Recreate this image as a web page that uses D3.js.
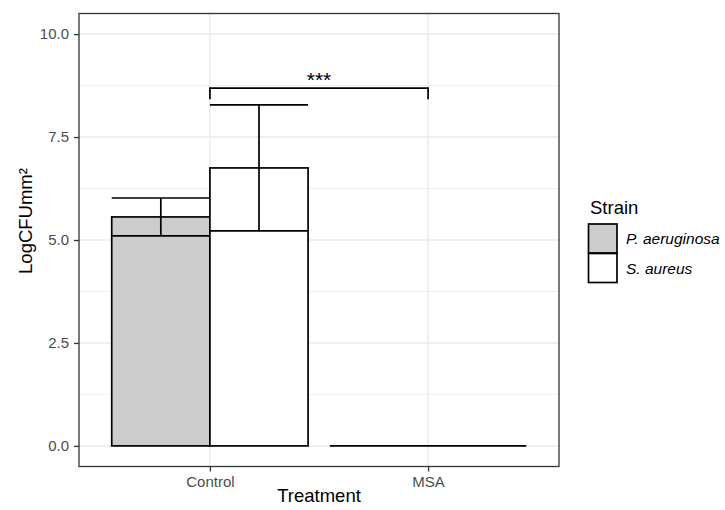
<!DOCTYPE html>
<html>
<head>
<meta charset="utf-8">
<script src="https://cdn.jsdelivr.net/npm/d3@7"></script>
<style>
  body { margin: 0; background: #fff; }
  svg text { font-family: "Liberation Sans", Arial, Helvetica, sans-serif; }
</style>
</head>
<body>
<div id="chart"></div>
<script>
// data
var treatments = ["Control", "MSA"];
var strains = ["P. aeruginosa", "S. aureus"];
var strainFill = ["#cccccc", "#ffffff"];
var meanPA = [5.56, 0];
var meanSA = [6.75, 0];
var sdPA = [0.46, 0];
var sdSA = [1.53, 0];
var yTicks = [0, 2.5, 5, 7.5, 10];
var yMinor = [1.25, 3.75, 6.25, 8.75];
var sigFrom = "Control", sigTo = "MSA", sigY = 8.69, sigTip = 8.42, sigLabel = "***";

var rows = [];
treatments.forEach(function (t, i) {
  rows.push({ treatment: t, strain: strains[0], mean: meanPA[i], sd: sdPA[i] });
  rows.push({ treatment: t, strain: strains[1], mean: meanSA[i], sd: sdSA[i] });
});

var W = 725, H = 510;
var pLeft = 79, pRight = 559, pTop = 13.5, pBottom = 466.5;

var svg = d3.select("#chart").append("svg").attr("width", W).attr("height", H);

// discrete axis: categories at 1..n, range expanded by 0.6 each side
var xc = d3.scaleLinear().domain([0.4, treatments.length + 0.6]).range([pLeft, pRight]);
function xPos(t) { return xc(treatments.indexOf(t) + 1); }
var dodge = d3.scaleBand().domain(strains).range([-0.45, 0.45]);

var y = d3.scaleLinear().domain([-0.5, 10.5]).range([pBottom, pTop]);
var color = d3.scaleOrdinal().domain(strains).range(strainFill);

// grid
var grid = svg.append("g");
grid.selectAll(".minor").data(yMinor).enter().append("line")
  .attr("x1", pLeft).attr("x2", pRight)
  .attr("y1", function (d) { return y(d); }).attr("y2", function (d) { return y(d); })
  .attr("stroke", "#ebebeb").attr("stroke-width", 0.8);
grid.selectAll(".major").data(yTicks).enter().append("line")
  .attr("x1", pLeft).attr("x2", pRight)
  .attr("y1", function (d) { return y(d); }).attr("y2", function (d) { return y(d); })
  .attr("stroke", "#ebebeb").attr("stroke-width", 1.5);
grid.selectAll(".vmajor").data(treatments).enter().append("line")
  .attr("x1", xPos).attr("x2", xPos)
  .attr("y1", pTop).attr("y2", pBottom)
  .attr("stroke", "#ebebeb").attr("stroke-width", 1.5);

// bars
function bx(d) { return xc(treatments.indexOf(d.treatment) + 1 + dodge(d.strain)); }
function bw() { return xc(1 + dodge.bandwidth()) - xc(1); }

svg.append("g").selectAll("rect").data(rows).enter().append("rect")
  .attr("x", bx)
  .attr("y", function (d) { return y(d.mean); })
  .attr("width", bw())
  .attr("height", function (d) { return y(0) - y(d.mean); })
  .attr("fill", function (d) { return color(d.strain); })
  .attr("stroke", "#000").attr("stroke-width", 1.7);

// error bars
var eb = svg.append("g").attr("stroke", "#000").attr("stroke-width", 1.7).attr("fill", "none");
rows.forEach(function (d) {
  var x0 = bx(d), x1 = x0 + bw(), xm = (x0 + x1) / 2;
  var lo = y(d.mean - d.sd), hi = y(d.mean + d.sd);
  eb.append("path").attr("d",
    "M" + x0 + "," + hi + "H" + x1 +
    "M" + x0 + "," + lo + "H" + x1 +
    "M" + xm + "," + hi + "V" + lo);
});

// significance bracket
var sx0 = xPos(sigFrom), sx1 = xPos(sigTo);
svg.append("path")
  .attr("d", "M" + sx0 + "," + y(sigTip) + "V" + y(sigY) + "H" + sx1 + "V" + y(sigTip))
  .attr("stroke", "#000").attr("stroke-width", 1.7).attr("fill", "none");
svg.append("text")
  .attr("x", (sx0 + sx1) / 2).attr("y", y(sigY) - 1)
  .attr("text-anchor", "middle").attr("font-size", 21).text(sigLabel);

// panel border
svg.append("rect").attr("x", pLeft).attr("y", pTop)
  .attr("width", pRight - pLeft).attr("height", pBottom - pTop)
  .attr("fill", "none").attr("stroke", "#333333").attr("stroke-width", 1.3);

// axes
var yAxis = svg.append("g").attr("transform", "translate(" + pLeft + ",0)")
  .call(d3.axisLeft(y).tickValues(yTicks).tickFormat(d3.format(".1f")).tickSize(5).tickPadding(5));
var xAxis = svg.append("g").attr("transform", "translate(0," + pBottom + ")")
  .call(d3.axisBottom(xc).tickValues([1, 2]).tickFormat(function (d) { return treatments[d - 1]; }).tickSize(5).tickPadding(4.5));
[yAxis, xAxis].forEach(function (a) {
  a.select(".domain").remove();
  a.selectAll(".tick line").attr("stroke", "#333333").attr("stroke-width", 1.3);
  a.selectAll(".tick text").attr("fill", "#4d4d4d").attr("font-size", 15)
    .style("font-family", "'Liberation Sans', Arial, sans-serif");
});

// axis titles
svg.append("text").attr("x", (pLeft + pRight) / 2).attr("y", 502)
  .attr("text-anchor", "middle").attr("font-size", 18.5).text("Treatment");
svg.append("text").attr("transform", "translate(32,221) rotate(-90)")
  .attr("text-anchor", "middle").attr("font-size", 18.5).text("LogCFUmm²");

// legend
var lg = svg.append("g").attr("transform", "translate(588,0)");
lg.append("text").attr("x", 2).attr("y", 214).attr("font-size", 18.5).text("Strain");
strains.forEach(function (s, i) {
  var ky = 224 + i * 29.5;
  lg.append("rect").attr("x", 0.5).attr("y", ky).attr("width", 28.5).attr("height", 29)
    .attr("fill", color(s)).attr("stroke", "#000").attr("stroke-width", 1.7);
  lg.append("text").attr("x", 38).attr("y", ky + 20).attr("font-size", 15.5)
    .attr("font-style", "italic").text(s);
});
</script>
</body>
</html>
